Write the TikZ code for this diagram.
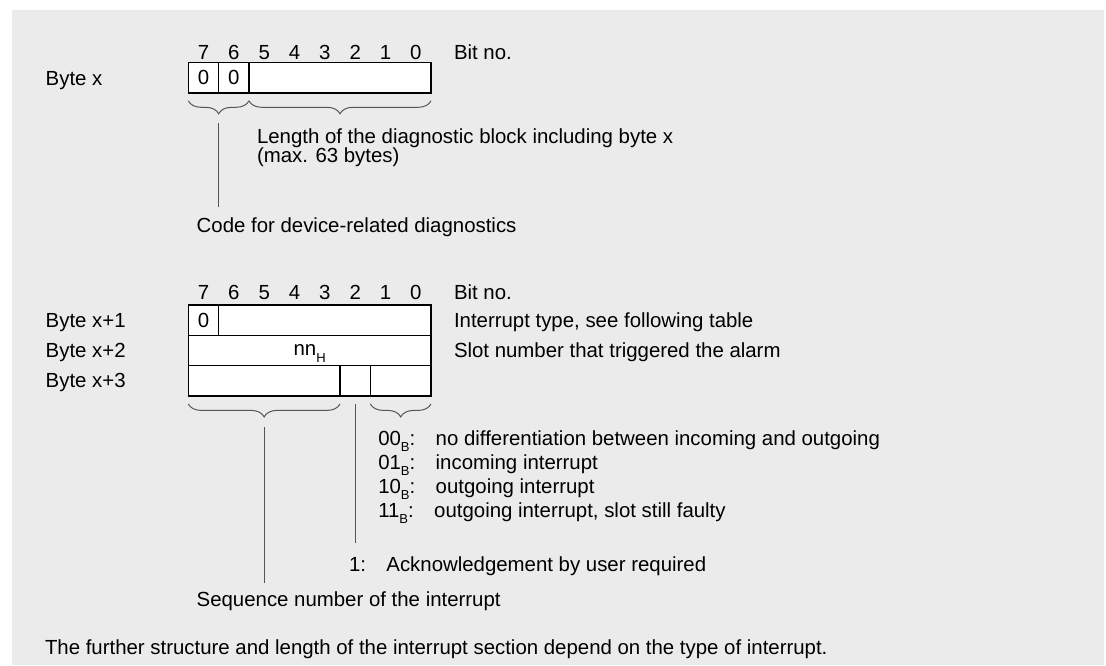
\documentclass[tikz,border=0pt]{standalone}
\usepackage{fontspec}
\setmainfont{Liberation Sans}
\usetikzlibrary{positioning, decorations.pathreplacing}
\definecolor{bggray}{RGB}{235,235,235}
\definecolor{leadgray}{RGB}{85,85,85}
\newcommand{\lowsub}[1]{\raisebox{-6.5pt}{\fontsize{13}{13}\selectfont #1}}

\begin{document}
\begin{tikzpicture}[x=1pt, y=-1pt, node distance=0pt,
    every node/.style={font=\fontsize{20.4}{24}\selectfont, inner sep=0pt, outer sep=0pt},
    txt/.style={anchor=base west},
    bitnum/.style={anchor=base},
    cell/.style={draw, fill=white, line width=1.5pt, minimum height=30.3pt, minimum width=#1, text height=14.6pt, text depth=0pt},
    cell/.default=30.34pt,
    bracedown/.style={decorate, decoration={brace, mirror, amplitude=13pt}, draw=leadgray, line width=1pt},
    leader/.style={draw=leadgray, line width=1pt}]
    \useasboundingbox (0,0) rectangle (1106,665);
    \fill[bggray] (12,10) rectangle (1104,665);

    % byte x
    \foreach \b [count=\i from 0] in {7,6,...,0}
      \node[bitnum] (xbit\b) at ({203.5+30.34*\i}, 59) {\b};
    \node[txt] (xbitno) at (454, 59) {Bit no.};
    \node[txt] (xlabel) at (45.7, 85.3) {Byte x};
    \node[cell, anchor=north west] (xa7) at (188.3, 62.5) {0};
    \node[cell, right=of xa7] (xa6) {0};
    \node[cell=182.02pt, right=of xa6] (xarest) {};
    \draw[bracedown] ([yshift=-8pt]xa7.south west) -- ([yshift=-8pt]xa6.south east);
    \draw[bracedown] ([yshift=-8pt]xarest.south west) -- ([yshift=-8pt]xarest.south east);
    \node[txt] (lenone) at (257, 143.3) {Length of the diagnostic block including byte x};
    \node[txt] (lentwo) at (257, 162.3) {(max. 63 bytes)};
    \coordinate (codetop) at ([yshift=-30pt]xa6.south west);
    \coordinate (codebot) at ([yshift=-114pt]xa6.south west);
    \draw[leader] (codetop) -- (codebot);
    \node[txt] (codetxt) at (196.7, 232.3) {Code for device-related diagnostics};

    % bytes x+1 to x+3
    \foreach \b [count=\i from 0] in {7,6,...,0}
      \node[bitnum] (ybit\b) at ({203.5+30.34*\i}, 299) {\b};
    \node[txt] (ybitno) at (454, 299) {Bit no.};
    \node[txt] (ylabela) at (45.7, 327.3) {Byte x+1};
    \node[txt] (ylabelb) at (45.7, 357.3) {Byte x+2};
    \node[txt] (ylabelc) at (45.7, 387.3) {Byte x+3};
    \node[cell, anchor=north west] (ya7) at (188.3, 305) {0};
    \node[cell=212.36pt, right=of ya7] (yarest) {};
    \node[cell=242.7pt, anchor=north west, text height=10.6pt] (yb) at (ya7.south west) {nn\lowsub{H}};
    \node[cell=151.7pt, anchor=north west] (yc73) at (yb.south west) {};
    \node[cell, right=of yc73] (yc2) {};
    \node[cell=60.68pt, right=of yc2] (yc10) {};
    \node[txt] (ytype) at (454, 327.3) {Interrupt type, see following table};
    \node[txt] (yslot) at (454, 357.3) {Slot number that triggered the alarm};
    \draw[bracedown] ([yshift=-8pt]yc73.south west) -- ([yshift=-8pt]yc73.south east);
    \draw[bracedown] ([yshift=-8pt]yc10.south west) -- ([yshift=-8pt]yc10.south east);

    % interrupt kinds
    \node[txt] (kindoo) at (378.3, 445.3) {00\lowsub{B}:\quad no differentiation between incoming and outgoing};
    \node[txt] (kindoi) at (378.3, 469.3) {01\lowsub{B}:\quad incoming interrupt};
    \node[txt] (kindio) at (378.3, 493.3) {10\lowsub{B}:\quad outgoing interrupt};
    \node[txt] (kindii) at (378.3, 517.3) {11\lowsub{B}:\quad outgoing interrupt, slot still faulty};

    \coordinate (acktop) at ([yshift=-8pt]yc2.south);
    \coordinate (ackbot) at ([yshift=-147pt]yc2.south);
    \draw[leader] (acktop) -- (ackbot);
    \node[txt] (acktxt) at (349, 571.3) {1:\quad Acknowledgement by user required};

    \coordinate (seqtop) at ([yshift=-31pt]yc73.south);
    \coordinate (seqbot) at ([yshift=-187pt]yc73.south);
    \draw[leader] (seqtop) -- (seqbot);
    \node[txt] (seqtxt) at (196.7, 606.3) {Sequence number of the interrupt};

    \node[txt] (foot) at (45, 654.3) {The further structure and length of the interrupt section depend on the type of interrupt.};
\end{tikzpicture}
\end{document}
